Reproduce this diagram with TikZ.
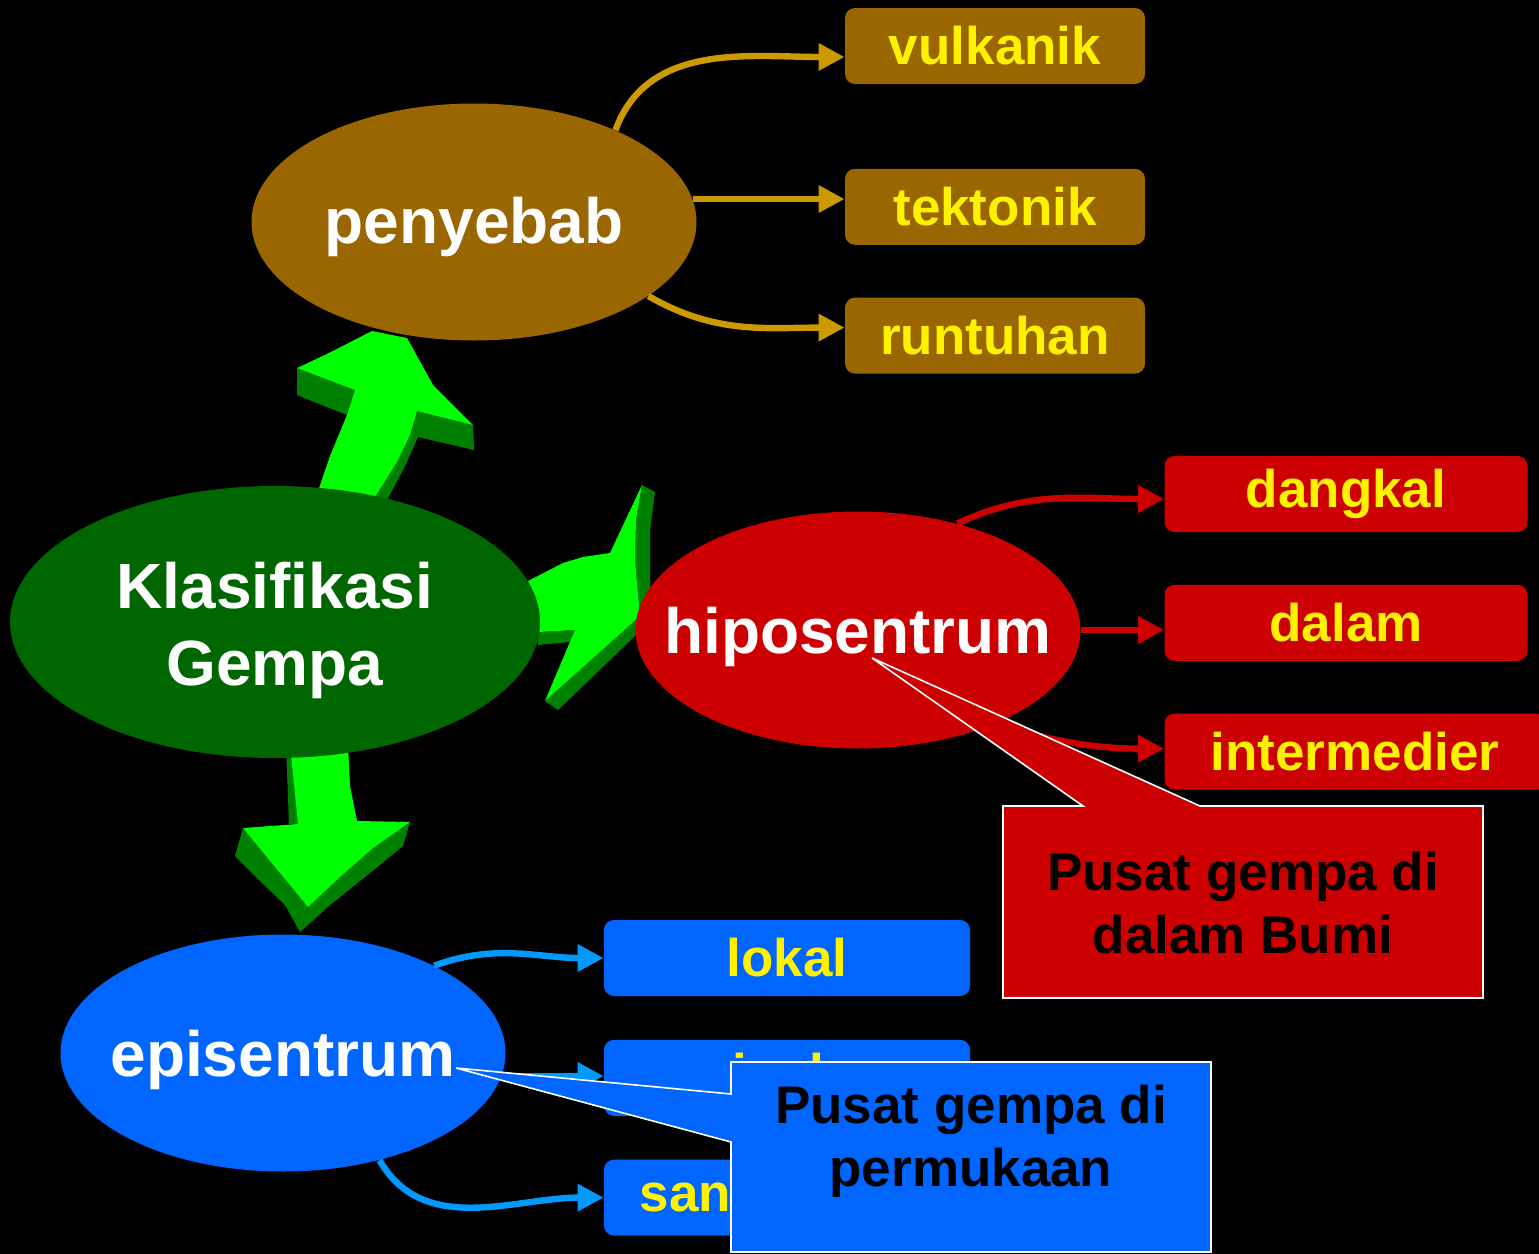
\documentclass[tikz,border=0pt]{standalone}
\usepackage{fontspec}
\setmainfont{Liberation Sans}
\usetikzlibrary{positioning, shapes.geometric, arrows.meta}

\definecolor{sebabfill}{HTML}{996600}
\definecolor{sebabline}{HTML}{CC9900}
\definecolor{klasfill}{HTML}{006600}
\definecolor{hipofill}{HTML}{CC0000}
\definecolor{epifill}{HTML}{0066FF}
\definecolor{epiline}{HTML}{0099FF}
\definecolor{hijau}{HTML}{00FF00}
\definecolor{hijaugelap}{HTML}{008000}

\begin{document}
\begin{tikzpicture}[
    x=0.5pt, y=-0.5pt,
    mnode/.style={ellipse, fill=#1, text=white, inner xsep=-25pt, inner ysep=0pt, text height=30pt,
      font=\bfseries\fontsize{32}{38.5}\selectfont, minimum width=222.5pt, minimum height=118.5pt},
    lnode/.style={rectangle, rounded corners=5pt, fill=#1, text=yellow,
      font=\bfseries\fontsize{26.5}{32}\selectfont, minimum height=38pt},
    cnode/.style={align=center, text=black, font=\bfseries\fontsize{26.5}{31.5}\selectfont},
    cbox/.style={fill=#1, draw=white, line width=0.8pt},
    panah/.style={line width=3.2pt, draw=#1, -{Triangle[length=13pt,width=13pt]}},
    muka/.style={fill=hijau},
    sisi/.style={fill=hijaugelap},
  ]

  \fill[black] (0,0) rectangle (1539,1254);
  \useasboundingbox (0,0) rectangle (1539,1254);

  % panah hijau ke atas
  \fill[sisi] (297,368) -- (355,390) -- (347,415) -- (297,395) -- cycle;
  \fill[sisi] (417,411) -- (473,425) -- (474,450) -- (418,437) -- (405,466) -- (387,500) -- (373,500) -- (397,462) -- (410,435) -- cycle;
  \fill[muka] (315,500) -- (330,456) -- (347,415) -- (355,390) -- (297,368) -- (327,354) -- (372,331) -- (407,338)
    -- (433,385) -- (473,425) -- (417,411) -- (410,435) -- (397,462) -- (373,500) -- cycle;

  % panah hijau ke kanan
  \fill[sisi] (538,632) -- (575,630) -- (570,642) -- (538,645) -- cycle;
  \fill[sisi] (642,485) -- (655,492) -- (650,530) -- (650,600) -- (635,636) -- (558,710) -- (545,701) -- (640,616) -- (635,560) -- (636,520) -- cycle;
  \fill[muka] (515,590) -- (528,581) -- (563,563) -- (583,557) -- (610,553) -- (642,485) -- (636,520) -- (635,560)
    -- (640,616) -- (545,701) -- (575,630) -- (538,632) -- (515,640) -- cycle;

  % panah hijau ke bawah
  \fill[sisi] (286,745) -- (292,745) -- (298,824) -- (289,824) -- cycle;
  \fill[sisi] (243,828) -- (235,856) -- (260,881) -- (285,905) -- (300,932) -- (308,907) -- (290,885) -- (270,861) -- cycle;
  \fill[sisi] (308,907) -- (300,932) -- (330,905) -- (370,873) -- (403,846) -- (410,822) -- (373,848) -- (340,877) -- cycle;
  \fill[muka] (290,745) -- (298,824) -- (243,828) -- (270,861) -- (290,885) -- (308,907) -- (340,877) -- (373,848)
    -- (410,822) -- (357,821) -- (350,786) -- (348,745) -- cycle;

  \node[mnode=sebabfill, text height=28.5pt] (sebab) at (474,222) {penyebab};
  \node[mnode=klasfill, align=center, text height=70pt, minimum width=265pt, minimum height=136pt] (klas) at (275,622) {Klasifikasi\\Gempa};
  \node[mnode=hipofill] (hipo) at (858,630) {hiposentrum};
  \node[mnode=epifill] (epi) at (283,1053) {episentrum};

  \node[lnode=sebabfill, minimum width=150pt] (vulk) at (995,46) {vulkanik};
  \node[lnode=sebabfill, minimum width=150pt] (tekt) [below=42pt of vulk] {tektonik};
  \node[lnode=sebabfill, minimum width=150pt] (runt) [below=26pt of tekt] {runtuhan};

  \node[lnode=hipofill, minimum width=181.5pt] (dangkal) at (1346,494) {dangkal};
  \node[lnode=hipofill, minimum width=181.5pt] (dalam) [below=26pt of dangkal] {dalam};
  \node[lnode=hipofill, minimum width=190.5pt] (inter) [below=26pt of dalam.south west, anchor=north west] {intermedier};

  \node[lnode=epifill, minimum width=183pt] (lokal) at (787,958) {lokal};
  \node[lnode=epifill, minimum width=183pt] (jauh) [below=21.5pt of lokal] {jauh};
  \node[lnode=epifill, minimum width=183pt] (sangat) [below=21.5pt of jauh] {sangat jauh};

  \draw[panah=sebabline] (sebab.33) to[out=70, in=180] ([yshift=-5.5pt]vulk.west);
  \draw[panah=sebabline] (sebab.6) -- (sebab.6 -| tekt.west);
  \draw[panah=sebabline] (sebab.-23) to[out=-30, in=180] ([yshift=4pt]runt.west);

  \draw[panah=hipofill] (hipo.47) to[out=25, in=180] ([yshift=-2.5pt]dangkal.west);
  \draw[panah=hipofill] (hipo.east) -- (hipo.east -| dalam.west);
  \draw[panah=hipofill] (hipo.-35) to[out=-15, in=180] ([yshift=1.5pt]inter.west);

  \draw[panah=epiline] (epi.30) to[out=20, in=180] (lokal.west);
  \draw[panah=epiline] (epi.-6) -- (epi.-6 -| jauh.west);
  \draw[panah=epiline] (epi.-48) to[out=-60, in=180] (sangat.west);

  % keterangan
  \coordinate (hipotip) at (872,658);
  \coordinate (epitip) at (456,1068);
  \filldraw[cbox=hipofill] (1003,806) -- (1083,806) -- (hipotip) -- (1200,806) -- (1483,806) -- (1483,998) -- (1003,998) -- cycle;
  \node[cnode] (bumi) at (1243,903) {Pusat gempa di\\dalam Bumi};
  \filldraw[cbox=epifill] (731,1062) -- (1211,1062) -- (1211,1252) -- (731,1252) -- (731,1142) -- (epitip) -- (731,1094) -- cycle;
  \node[cnode] (permukaan) at (971,1141) {Pusat gempa di\\permukaan};
\end{tikzpicture}
\end{document}
